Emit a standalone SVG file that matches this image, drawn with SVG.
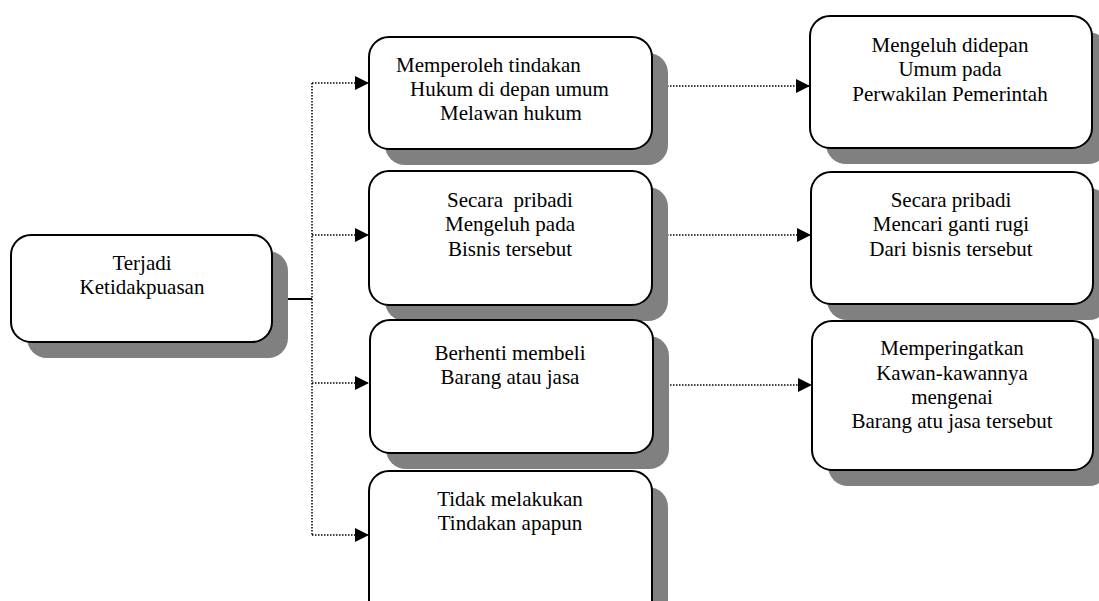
<svg xmlns="http://www.w3.org/2000/svg" width="1099" height="601" viewBox="0 0 1099 601">
<defs>
<style>
.sh{fill:#808080;stroke:none}
.bx{fill:#fff;stroke:#000;stroke-width:2}
.t{font-family:"Liberation Serif","Times New Roman",serif;font-size:21px;fill:#000;white-space:pre}
.c{text-anchor:middle}
.dot{stroke:#000;stroke-width:1.5;stroke-dasharray:1.5,1.5;fill:none}
.sol{stroke:#000;stroke-width:2;fill:none}
</style>
<marker id="ah" markerUnits="userSpaceOnUse" markerWidth="15" markerHeight="15" refX="14" refY="7" orient="auto">
<path d="M0,0 L14,7 L0,14 z" fill="#000"/>
</marker>
</defs>
<rect width="1099" height="601" fill="#fff"/>
<g id="connectors">
<line class="sol" x1="272" y1="299" x2="312" y2="299"/>
<line class="dot" x1="312" y1="83" x2="312" y2="535"/>
<line class="dot" x1="312" y1="83" x2="369" y2="83" marker-end="url(#ah)"/>
<line class="dot" x1="312" y1="235" x2="369" y2="235" marker-end="url(#ah)"/>
<line class="dot" x1="312" y1="383" x2="369" y2="383" marker-end="url(#ah)"/>
<line class="dot" x1="312" y1="535" x2="369" y2="535" marker-end="url(#ah)"/>
<line class="dot" x1="652" y1="86" x2="810" y2="86" marker-end="url(#ah)"/>
<line class="dot" x1="652" y1="235" x2="811" y2="235" marker-end="url(#ah)"/>
<line class="dot" x1="652" y1="385" x2="812" y2="385" marker-end="url(#ah)"/>
</g>
<g id="n1">
<rect class="sh" x="27" y="251" width="261" height="107" rx="20"/>
<rect class="bx" x="11" y="235" width="261" height="107" rx="20"/>
<text class="t c" x="142" y="270">Terjadi</text>
<text class="t c" x="142" y="294">Ketidakpuasan</text>
</g>
<g id="n2">
<rect class="sh" x="385" y="53" width="283" height="112" rx="20"/>
<rect class="bx" x="369" y="37" width="283" height="112" rx="20"/>
<text class="t" x="396" y="72">Memperoleh tindakan</text>
<text class="t" x="410" y="96">Hukum di depan umum</text>
<text class="t" x="440" y="120">Melawan hukum</text>
</g>
<g id="n3">
<rect class="sh" x="385" y="187" width="283" height="134" rx="20"/>
<rect class="bx" x="369" y="171" width="283" height="134" rx="20"/>
<text class="t c" x="510" y="207">Secara  pribadi</text>
<text class="t c" x="510" y="231">Mengeluh pada</text>
<text class="t c" x="510" y="256">Bisnis tersebut</text>
</g>
<g id="n4">
<rect class="sh" x="386" y="336" width="283" height="133" rx="20"/>
<rect class="bx" x="370" y="320" width="283" height="133" rx="20"/>
<text class="t c" x="510" y="360">Berhenti membeli</text>
<text class="t c" x="510" y="384">Barang atau jasa</text>
</g>
<g id="n5">
<rect class="sh" x="385" y="487" width="283" height="150" rx="20"/>
<rect class="bx" x="369" y="471" width="283" height="150" rx="20"/>
<text class="t c" x="510" y="506">Tidak melakukan</text>
<text class="t c" x="510" y="530">Tindakan apapun</text>
</g>
<g id="n6">
<rect class="sh" x="826" y="32" width="282" height="132" rx="20"/>
<rect class="bx" x="810" y="16" width="282" height="132" rx="20"/>
<text class="t c" x="950" y="52">Mengeluh didepan</text>
<text class="t c" x="950" y="76">Umum pada</text>
<text class="t c" x="950" y="101">Perwakilan Pemerintah</text>
</g>
<g id="n7">
<rect class="sh" x="827" y="188" width="282" height="132" rx="20"/>
<rect class="bx" x="811" y="172" width="282" height="132" rx="20"/>
<text class="t c" x="951" y="207">Secara pribadi</text>
<text class="t c" x="951" y="231">Mencari ganti rugi</text>
<text class="t c" x="951" y="256">Dari bisnis tersebut</text>
</g>
<g id="n8">
<rect class="sh" x="828" y="337" width="281" height="149" rx="20"/>
<rect class="bx" x="812" y="321" width="281" height="149" rx="20"/>
<text class="t c" x="952" y="355">Memperingatkan</text>
<text class="t c" x="952" y="380">Kawan-kawannya</text>
<text class="t c" x="952" y="404">mengenai</text>
<text class="t c" x="952" y="428">Barang atu jasa tersebut</text>
</g>
</svg>
